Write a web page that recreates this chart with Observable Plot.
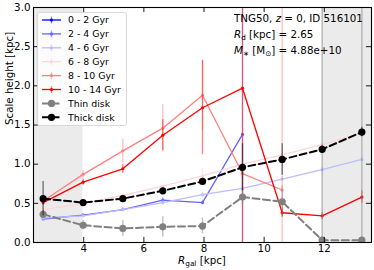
<!DOCTYPE html>
<html><head><meta charset="utf-8">
<script src="https://cdn.jsdelivr.net/npm/d3@7"></script>
<script src="https://cdn.jsdelivr.net/npm/@observablehq/plot@0.6"></script>
<style>
body{margin:0;background:#fff}
svg{font-family:"DejaVu Sans",sans-serif}
</style>
</head><body><div id="chart"></div><script>
// ---- data ----
const R = [2.65, 3.98, 5.30, 6.63, 7.95, 9.28, 10.60, 11.93, 13.25];
const h0_2  = [null, null, null, null, null, null, null, null, null];
const e0_2  = [null, null, null, null, null, null, null, null, null];
const h2_4  = [0.30, 0.35, 0.42, 0.54, 0.51, 1.38, null, null, null];
const e2_4  = [0.02, 0.02, 0.02, 0.03, 0.03, 1.6, null, null, null];
const h4_6  = [0.31, 0.34, 0.42, 0.51, 0.61, 0.69, 0.81, 0.93, 1.06];
const e4_6  = [0.02, 0.02, 0.02, 0.03, 0.03, 0.03, 0.03, 0.03, 0.03];
const h6_8  = [0.42, 0.50, 0.60, 0.72, 0.85, 1.00, 1.12, 1.25, 1.40];
const e6_8  = [0.02, 0.02, 0.02, 0.03, 0.1, 0.03, 0.03, 0.03, 0.03];
const h8_10 = [0.53, 0.87, 1.17, 1.46, 1.88, 0.88, 0.67, null, null];
const e8_10 = [0.03, 0.05, 0.15, 0.30, 0.45, 0.10, 3.0, null, null];
const h10_14 = [0.51, 0.77, 0.94, 1.37, 1.72, 1.97, 0.38, 0.34, 0.58];
const e10_14 = [0.03, 0.04, 0.06, 0.20, 0.60, 3.0, 0.05, 0.05, 0.08];
const hThin  = [0.36, 0.22, 0.18, 0.20, 0.21, 0.58, 0.52, 0.03, 0.03];
const eThin  = [0.05, 0.06, 0.10, 0.13, 0.10, 0.10, 0.20, 3.0, 3.0];
const hThick = [0.56, 0.51, 0.56, 0.66, 0.78, 0.96, 1.06, 1.19, 1.41];
const eThick = [0.22, 0.03, 0.03, 0.04, 0.04, 0.30, 0.20, 0.05, 0.06];

const seriesNames = ["0 - 2 Gyr", "2 - 4 Gyr", "4 - 6 Gyr", "6 - 8 Gyr", "8 - 10 Gyr", "10 - 14 Gyr", "Thin disk", "Thick disk"];
const seriesColors = ["#0000ff", "#6464ff", "#bcbcff", "#ffd6d6", "#ff8080", "#ff0000", "#808080", "#000000"];
const seriesH = [h0_2, h2_4, h4_6, h6_8, h8_10, h10_14, hThin, hThick];
const seriesE = [e0_2, e2_4, e4_6, e6_8, e8_10, e10_14, eThin, eThick];

const xDomain = [2.33, 13.57];
const yDomain = [0, 3];
const shade = [[2.33, 3.975], [11.925, 13.57]];
const xTicks = [4, 6, 8, 10, 12];
const yTicks = [0, 0.5, 1.0, 1.5, 2.0, 2.5, 3.0];

// ---- table ----
const rows = [];
seriesNames.forEach((s, i) => {
  R.forEach((r, j) => rows.push({series: s, idx: i, R: r, h: seriesH[i][j], err: seriesE[i][j]}));
});

const marks = [
  Plot.rect(shade, {x1: d => d[0], x2: d => d[1], y1: yDomain[0], y2: yDomain[1], fill: "#ebebeb"})
];
seriesNames.forEach((s, i) => {
  const d = rows.filter(r => r.idx === i);
  const disk = i >= 6;
  const c = seriesColors[i];
  marks.push(Plot.ruleX(d.filter(r => r.h != null && r.err != null), {
    x: "R", y1: r => r.h - r.err, y2: r => r.h + r.err,
    stroke: c, strokeOpacity: 0.5, strokeWidth: disk ? 1.4 : 1.3, clip: true
  }));
  marks.push(Plot.line(d, {x: "R", y: "h", stroke: c, strokeWidth: disk ? 2 : 1.3,
    strokeDasharray: disk ? "7,3.5" : null, clip: true}));
  marks.push(Plot.dot(d.filter(r => r.h != null), {x: "R", y: "h", fill: c, r: disk ? 3.6 : 1.6, clip: true}));
});
marks.push(
  Plot.ruleX(xTicks, {x: d => d, y1: 0, y2: 0.065, stroke: "black", strokeWidth: 0.9}),
  Plot.ruleX(xTicks, {x: d => d, y1: 3 - 0.065, y2: 3, stroke: "black", strokeWidth: 0.9}),
  Plot.ruleY(yTicks, {y: d => d, x1: xDomain[0], x2: xDomain[0] + 0.17, stroke: "black", strokeWidth: 0.9}),
  Plot.ruleY(yTicks, {y: d => d, x1: xDomain[1] - 0.17, x2: xDomain[1], stroke: "black", strokeWidth: 0.9}),
  Plot.frame({stroke: "black", strokeWidth: 1.1}),
  Plot.axisX(xTicks, {tickSize: 0, tickPadding: 2, label: null, fontSize: 10.3, fill: "black"}),
  Plot.axisY(yTicks, {tickSize: 0, tickPadding: 3, label: null, fontSize: 10.3, fill: "black", tickFormat: d3.format(".1f")}),
  Plot.text(["Scale height [kpc]"], {frameAnchor: "left", dx: -24, rotate: -90, text: d => d, fontSize: 10.3, fill: "black"})
);

const chart = Plot.plot({
  width: 374, height: 270,
  marginLeft: 33, marginRight: 3, marginTop: 7, marginBottom: 28,
  x: {domain: xDomain},
  y: {domain: yDomain},
  style: {fontFamily: "DejaVu Sans, sans-serif", fontSize: "10.3px", color: "black", background: "white"},
  marks
});
document.getElementById("chart").appendChild(chart);

const svg = d3.select(chart);
// x label
const xl = svg.append("text").attr("x", 202).attr("y", 264).attr("text-anchor", "middle")
  .attr("font-size", 10.3).attr("fill", "black");
xl.append("tspan").attr("font-style", "italic").text("R");
xl.append("tspan").attr("font-size", 7.3).attr("dy", 2).text("gal");
xl.append("tspan").attr("dy", -2).text(" [kpc]");

// annotation
const ax = 234;
const t1 = svg.append("text").attr("x", ax).attr("y", 22).attr("text-anchor", "start").attr("font-size", 10.3).attr("fill", "black");
t1.append("tspan").text("TNG50, ");
t1.append("tspan").attr("font-style", "italic").text("z");
t1.append("tspan").text(" = 0, ID 516101");
const t2 = svg.append("text").attr("x", ax).attr("y", 38).attr("text-anchor", "start").attr("font-size", 10.3).attr("fill", "black");
t2.append("tspan").attr("font-style", "italic").text("R");
t2.append("tspan").attr("font-size", 7.3).attr("dy", 2).text("d");
t2.append("tspan").attr("dy", -2).text(" [kpc] = 2.65");
const t3 = svg.append("text").attr("x", ax).attr("y", 54).attr("text-anchor", "start").attr("font-size", 10.3).attr("fill", "black");
t3.append("tspan").attr("font-style", "italic").text("M");
t3.append("tspan").attr("font-size", 7.3).attr("dy", 2).text("∗");
t3.append("tspan").attr("dy", -2).text(" [M");
t3.append("tspan").attr("font-size", 7.3).attr("dy", 2).text("⊙");
t3.append("tspan").attr("dy", -2).text("] = 4.88e+10");

// legend
const lg = svg.append("g");
lg.append("rect").attr("x", 37.5).attr("y", 12.5).attr("width", 89).attr("height", 113).attr("rx", 2)
  .attr("fill", "white").attr("fill-opacity", 0.85).attr("stroke", "#d0d0d0").attr("stroke-width", 0.8);
seriesNames.forEach((s, i) => {
  const y = 20 + i * 13.9;
  const c = seriesColors[i];
  const disk = i >= 6;
  if (!disk) {
    lg.append("line").attr("x1", 51.5).attr("x2", 51.5).attr("y1", y - 3.5).attr("y2", y + 3.5)
      .attr("stroke", c).attr("stroke-opacity", 0.5).attr("stroke-width", 1.3);
  }
  lg.append("line").attr("x1", 42).attr("x2", 61).attr("y1", y).attr("y2", y)
    .attr("stroke", c).attr("stroke-width", disk ? 2 : 1.3).attr("stroke-dasharray", disk ? "7,3.5" : null);
  lg.append("circle").attr("cx", 51.5).attr("cy", y).attr("r", disk ? 3.6 : 1.6).attr("fill", c);
  lg.append("text").attr("x", 68).attr("y", y).attr("dy", "0.35em").attr("text-anchor", "start").attr("font-size", 9.4)
    .attr("fill", "black").text(s);
});
</script></body></html>
